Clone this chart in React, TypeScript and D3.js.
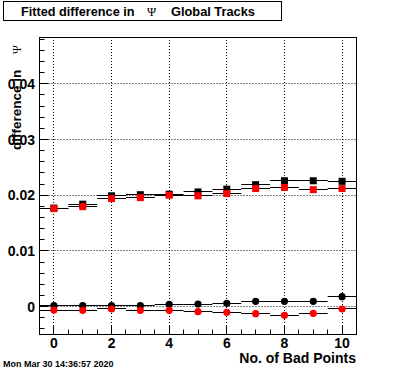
import React from "react";
import * as d3 from "d3";

const bins = [0, 1, 2, 3, 4, 5, 6, 7, 8, 9, 10];
const blackSquares = [0.0177, 0.0184, 0.0199, 0.0201, 0.0202, 0.0206, 0.0211, 0.0219, 0.0226, 0.0226, 0.0225];
const redSquares = [0.0176, 0.01795, 0.0194, 0.01957, 0.02, 0.0199, 0.0203, 0.0212, 0.0214, 0.021, 0.0212];
const blackCircles = [0.00018, 0.00018, 0.00018, 0.00018, 0.00043, 0.00048, 0.0006, 0.00097, 0.00097, 0.00097, 0.0018];
const redCircles = [-0.0006, -0.00065, -0.00041, -0.00065, -0.00065, -0.0009, -0.001, -0.00126, -0.00155, -0.00119, -0.00041];
const xMajorTicks = [0, 2, 4, 6, 8, 10];
const yMajorTicks = [0, 0.01, 0.02, 0.03, 0.04];
const yTickLabels = ["0", "0.01", "0.02", "0.03", "0.04"];

const W = 396, H = 372;
const L = 39.5, R = 356.5, T = 37, B = 334;
const SANS = "'Liberation Sans', Arial, Helvetica, sans-serif";
const SERIF = "'Liberation Serif', 'Times New Roman', serif";

export default function App() {
  const x = d3.scaleLinear().domain([-0.5, 10.5]).range([L, R]);
  const y = d3.scaleLinear().domain([-0.0049, 0.0484]).range([B, T]);
  const crisp = (v: number) => Math.round(v - 0.5) + 0.5;

  const xMinor = d3.range(-0.5, 10.51, 0.5).filter((v) => !xMajorTicks.includes(v));
  const yMinor = d3.range(-0.004, 0.0481, 0.002).filter(
    (v) => !yMajorTicks.some((m) => Math.abs(m - v) < 1e-9)
  );

  const sq = 7;
  const cr = 3.6;

  const errBars = (vals: number[], key: string) =>
    vals.map((v, i) => (
      <line
        key={key + i}
        x1={x(bins[i] - 0.5)}
        x2={x(bins[i] + 0.5)}
        y1={crisp(y(v))}
        y2={crisp(y(v))}
        stroke="#000"
        strokeWidth={1}
      />
    ));

  return (
    <svg
      width={W}
      height={H}
      style={{ position: "absolute", left: 0, top: 0, background: "#fff" }}
    >
      <rect x={0} y={0} width={W} height={H} fill="#fff" />
      {/* grid */}
      {xMajorTicks.map((t) => (
        <line key={"gx" + t} x1={crisp(x(t))} x2={crisp(x(t))} y1={T} y2={B} stroke="#000" strokeDasharray="1,2" strokeWidth={1} />
      ))}
      {yMajorTicks.map((t) => (
        <line key={"gy" + t} x1={L} x2={R} y1={crisp(y(t))} y2={crisp(y(t))} stroke="#000" strokeDasharray="1,2" strokeWidth={1} />
      ))}
      {/* ticks */}
      {xMajorTicks.map((t) => (
        <line key={"tx" + t} x1={crisp(x(t))} x2={crisp(x(t))} y1={B} y2={B - 9} stroke="#000" />
      ))}
      {xMinor.map((t) => (
        <line key={"mx" + t} x1={crisp(x(t))} x2={crisp(x(t))} y1={B} y2={B - 4.5} stroke="#000" />
      ))}
      {yMajorTicks.map((t) => (
        <line key={"ty" + t} x1={L} x2={L + 9} y1={crisp(y(t))} y2={crisp(y(t))} stroke="#000" />
      ))}
      {yMinor.map((t) => (
        <line key={"my" + t} x1={L} x2={L + 5} y1={crisp(y(t))} y2={crisp(y(t))} stroke="#000" />
      ))}
      {/* error bars */}
      {errBars(blackSquares, "ebs")}
      {errBars(redSquares, "ers")}
      {errBars(blackCircles, "ebc")}
      {errBars(redCircles, "erc")}
      {/* markers */}
      {blackSquares.map((v, i) => (
        <rect key={"bs" + i} x={x(bins[i]) - sq / 2} y={y(v) - sq / 2} width={sq} height={sq} fill="#000" />
      ))}
      {redSquares.map((v, i) => (
        <rect key={"rs" + i} x={x(bins[i]) - sq / 2} y={y(v) - sq / 2} width={sq} height={sq} fill="#ff0000" />
      ))}
      {blackCircles.map((v, i) => (
        <circle key={"bc" + i} cx={x(bins[i])} cy={y(v)} r={cr} fill="#000" />
      ))}
      {redCircles.map((v, i) => (
        <circle key={"rc" + i} cx={x(bins[i])} cy={y(v)} r={cr} fill="#ff0000" />
      ))}
      {/* frame */}
      <rect x={L} y={crisp(T)} width={R - L} height={B - T} fill="none" stroke="#000" strokeWidth={1} />
      {/* tick labels */}
      {yMajorTicks.map((t, i) => (
        <text key={"ly" + t} x={35} y={y(t)} dy="0.36em" textAnchor="end" fontFamily={SANS} fontWeight="bold" fontSize={14}>
          {yTickLabels[i]}
        </text>
      ))}
      {xMajorTicks.map((t) => (
        <text key={"lx" + t} x={x(t)} y={348} textAnchor="middle" fontFamily={SANS} fontWeight="bold" fontSize={14}>
          {t}
        </text>
      ))}
      {/* axis titles */}
      <text x={356} y={363} textAnchor="end" fontFamily={SANS} fontWeight="bold" fontSize={14}>
        No. of Bad Points
      </text>
      <g transform="translate(21,150) rotate(-90)">
        <text x={0} y={0} fontFamily={SANS} fontWeight="bold" fontSize={13.5}>
          difference in
        </text>
        <text x={96} y={0} fontFamily={SERIF} fontSize={12}>
          Ψ
        </text>
      </g>
      {/* title box */}
      <rect x={3.5} y={1.5} width={278} height={19} fill="#fff" stroke="#000" strokeWidth={1} />
      <text x={21} y={15.5} fontFamily={SANS} fontWeight="bold" fontSize={12.7}>
        Fitted difference in
      </text>
      <text x={147} y={15.5} fontFamily={SERIF} fontSize={12.5}>
        Ψ
      </text>
      <text x={171} y={15.5} fontFamily={SANS} fontWeight="bold" fontSize={12.8}>
        Global Tracks
      </text>
      {/* date */}
      <text x={3} y={367} fontFamily={SANS} fontWeight="bold" fontSize={9}>
        Mon Mar 30 14:36:57 2020
      </text>
    </svg>
  );
}
